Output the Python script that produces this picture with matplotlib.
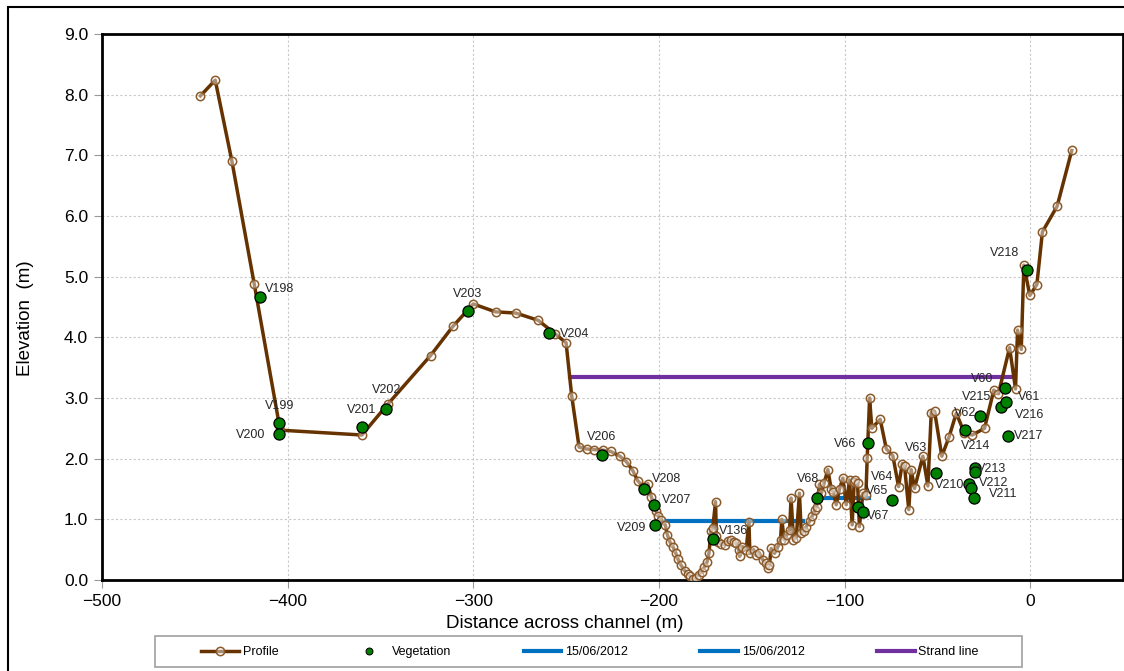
import matplotlib
matplotlib.use('Agg')
import matplotlib.pyplot as plt
from matplotlib.lines import Line2D
from matplotlib.patches import Rectangle

# profile across the channel (distance m, elevation m)
profile_x = [-447, -439, -430, -418, -404, -360, -346, -323, -311, -300, -288, -277,
             -265, -256, -250, -247, -243, -239, -235, -230, -226, -221, -217.5, -214,
             -211.5, -208.6, -206, -204, -201.5, -200.5, -198.7, -196.5, -195.5, -194,
             -192.5, -191, -189.7, -188, -186, -184.5, -183, -181.5, -180, -178.5, -177,
             -175.5, -174, -173, -172, -171, -169.5, -169, -168, -166.5, -164.5, -163,
             -161, -159.5, -158.3, -157, -156.5, -155, -153, -151.5, -151, -149, -147.5,
             -146, -144, -142.5, -141.3, -140.5, -139.5, -137.7, -135.9, -134.5, -133.8,
             -132.5, -131, -129.6, -128.8, -127.5, -126, -124.3, -123.3, -122, -120.6,
             -118.8, -117.5, -116, -115, -113.5, -112.5, -111, -109, -107.2, -106, -104.5,
             -102.7, -100.9, -99.1, -97.3, -95.9, -94.8, -94.1, -93, -92, -90.1, -88.5,
             -87.8, -86.5, -85.3, -80.8, -77.5, -74.0, -70.9, -68.9, -67.7, -65.4, -64.1,
             -62.3, -57.8, -55.1, -53.3, -51.5, -47.6, -43.8, -39.8, -35.4, -31.2, -24.6,
             -19.6, -17.1, -11.1, -7.9, -6.8, -4.8, -3.4, -0.2, 3.6, 6.6, 14.5, 22.4]
profile_y = [7.98, 8.24, 6.90, 4.88, 2.47, 2.39, 2.90, 3.70, 4.18, 4.55, 4.42, 4.40,
             4.28, 4.06, 3.91, 3.04, 2.19, 2.16, 2.15, 2.14, 2.12, 2.04, 1.95, 1.80,
             1.64, 1.54, 1.59, 1.36, 1.13, 1.06, 0.99, 0.90, 0.75, 0.62,
             0.55, 0.45, 0.34, 0.24, 0.15, 0.10, 0.06, 0.01, 0.04, 0.09, 0.13,
             0.22, 0.30, 0.45, 0.80, 0.85, 1.29, 0.72, 0.62, 0.60, 0.58, 0.64,
             0.66, 0.62, 0.61, 0.50, 0.39, 0.55, 0.50, 0.96, 0.44, 0.50, 0.41,
             0.45, 0.33, 0.28, 0.19, 0.25, 0.52, 0.44, 0.55, 0.66, 1.00,
             0.66, 0.75, 0.83, 1.35, 0.66, 0.70, 1.43, 0.77, 0.80, 0.88,
             0.97, 1.05, 1.15, 1.21, 1.58, 1.43, 1.60, 1.82, 1.50, 1.45, 1.24,
             1.50, 1.68, 1.24, 1.65, 0.91, 1.62, 1.65, 1.60, 0.88, 1.43, 1.40,
             2.01, 3.00, 2.50, 2.65, 2.16, 2.05, 1.54, 1.92, 1.88, 1.16, 1.82,
             1.51, 2.04, 1.55, 2.76, 2.78, 2.04, 2.35, 2.75, 2.42, 2.39, 2.50,
             3.13, 3.07, 3.83, 3.15, 4.12, 3.80, 5.19, 4.69, 4.87, 5.74, 6.16, 7.08]

# vegetation samples
veg_x = [-414.9, -404.6, -404.6, -360.1, -347, -303, -259.4, -230.7, -208.1, -202.7,
         -202.3, -171.1, -114.9, -87.4, -92.5, -89.9, -74.7, -50.5, -29.6, -29.8,
         -32.7, -32.1, -30.4, -35.2, -26.8, -15.5, -13.1, -13.8, -11.8, -1.6]
veg_y = [4.67, 2.58, 2.41, 2.52, 2.82, 4.43, 4.07, 2.06, 1.50, 1.23,
         0.90, 0.68, 1.35, 2.26, 1.21, 1.12, 1.32, 1.76, 1.84, 1.78,
         1.59, 1.51, 1.35, 2.47, 2.71, 2.85, 2.93, 3.16, 2.37, 5.11]

# vegetation labels and their (data) positions
label_text = ['V198', 'V199', 'V200', 'V201', 'V202', 'V203', 'V204', 'V206', 'V208',
              'V207', 'V209', 'V136', 'V68', 'V66', 'V64', 'V65', 'V67', 'V63', 'V210',
              'V213', 'V212', 'V211', 'V214', 'V62', 'V215', 'V60', 'V61', 'V216',
              'V217', 'V218']
label_x = [-404.2, -404.2, -419.9, -360.3, -346.8, -303.2, -245.4, -230.7, -195.7,
           -190.3, -214.5, -159.6, -119.4, -99.5, -79.7, -82.6, -82.1, -61.4, -43.5,
           -20.7, -19.8, -14.8, -29.5, -34.8, -29.1, -25.8, -0.8, -0.4, -0.9, -13.8]
label_y = [4.80, 2.86, 2.39, 2.81, 3.14, 4.72, 4.06, 2.36, 1.66,
           1.32, 0.86, 0.80, 1.67, 2.24, 1.70, 1.47, 1.06, 2.17, 1.56,
           1.83, 1.60, 1.42, 2.21, 2.76, 3.01, 3.31, 3.02, 2.72, 2.37, 5.39]

# water levels 15/06/2012 and strand line
water1_x = [-196.4, -122.3]
water1_y = [0.98, 0.98]
water2_x = [-114.9, -86.9]
water2_y = [1.35, 1.35]
strand_x = [-248, -9]
strand_y = [3.34, 3.34]

brown = '#663300'
blue = '#0070C0'
purple = '#7030A0'
narrow = ['Liberation Sans Narrow', 'DejaVu Sans Condensed', 'Liberation Sans']

fig = plt.figure(figsize=(11.24, 6.71), dpi=100)
ax = fig.add_axes([102 / 1124, 91 / 671, 1021 / 1124, 546 / 671])

ax.plot(profile_x, profile_y, color=brown, lw=2.5, marker='o', ms=6,
        mfc=(1, 1, 1, 0.45), mec='#8B5A2B', mew=1.1, zorder=3)
ax.plot(water1_x, water1_y, color=blue, lw=3, zorder=2)
ax.plot(water2_x, water2_y, color=blue, lw=3, zorder=2)
ax.plot(strand_x, strand_y, color=purple, lw=3, zorder=2)
ax.plot(veg_x, veg_y, ls='none', marker='o', ms=8, mfc='#008000', mec='black',
        mew=0.9, zorder=4)

for t, lx, ly in zip(label_text, label_x, label_y):
    ax.text(lx, ly, t, ha='center', va='center', fontsize=9, color='#262626',
            family=narrow, zorder=5)

ax.set_xlim(-500, 50)
ax.set_ylim(0, 9)
ax.set_xticks(range(-500, 1, 100))
ax.set_yticks(range(0, 10))
ax.set_yticklabels(['%.1f' % v for v in range(0, 10)])
ax.grid(True, color='#C8C8C8', ls=(0, (2, 2)), lw=0.8, zorder=0)
ax.set_axisbelow(True)
for s in ax.spines.values():
    s.set_linewidth(2)
    s.set_color('black')
ax.tick_params(axis='both', direction='out', length=6, width=0.8, color='#999999',
               labelsize=12.5, pad=4)
for lab in ax.get_xticklabels() + ax.get_yticklabels():
    lab.set_family('Liberation Sans')

fig.text(565 / 1124, 1 - 623 / 671, 'Distance across channel (m)', ha='center',
         va='center', fontsize=13.5, family='Liberation Sans')
fig.text(25 / 1124, 1 - 318 / 671, 'Elevation  (m)', ha='center', va='center',
         rotation=90, fontsize=13.5, family='Liberation Sans')

# outer chart frame and legend box
fig.add_artist(Rectangle((8 / 1124, -0.1), 1.2, 1.1 - 7 / 671, transform=fig.transFigure,
                         fill=False, ec='black', lw=1.5))
fig.add_artist(Rectangle((155 / 1124, 4 / 671), 867 / 1124, 31 / 671,
                         transform=fig.transFigure, fill=False, ec='#A0A0A0', lw=1.2))

handles = [
    Line2D([], [], color=brown, lw=2.5, marker='o', ms=6, mfc=(1, 1, 1, 0.45),
           mec='#8B5A2B', mew=1.1),
    Line2D([], [], ls='none', marker='o', ms=5, mfc='#008000', mec='black', mew=0.7),
    Line2D([], [], color=blue, lw=3),
    Line2D([], [], color=blue, lw=3),
    Line2D([], [], color=purple, lw=3),
]
names = ['Profile', 'Vegetation', '15/06/2012', '15/06/2012', 'Strand line']
fig.legend(handles, names, loc='center', bbox_to_anchor=(590 / 1124, 1 - 652 / 671),
           ncol=5, frameon=False, numpoints=1, handlelength=3, handletextpad=0.3,
           columnspacing=5.8, prop={'family': narrow, 'size': 9})

fig.savefig('out.png', dpi=100)
